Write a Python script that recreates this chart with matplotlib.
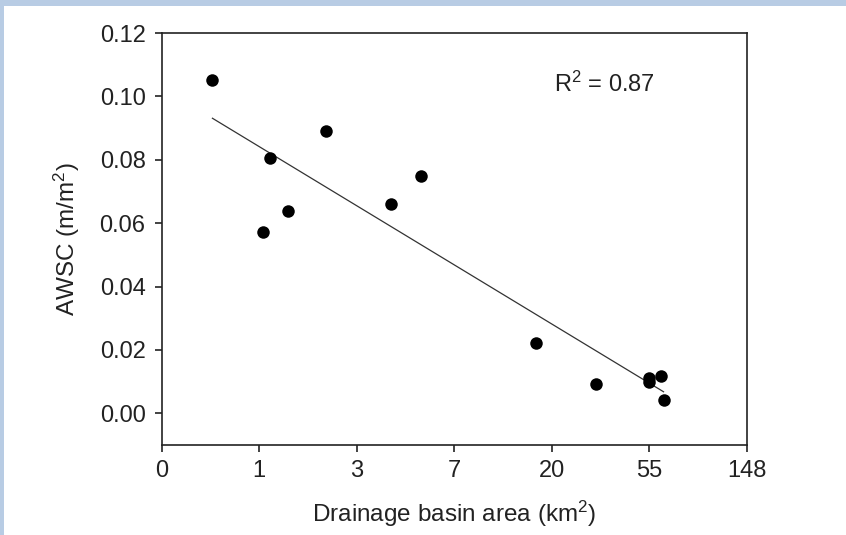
import numpy as np
import matplotlib
matplotlib.use("Agg")
import matplotlib.pyplot as plt
from matplotlib.patches import Rectangle

plt.rcParams['font.family'] = ['Liberation Sans', 'DejaVu Sans']
plt.rcParams['mathtext.fontset'] = 'custom'
plt.rcParams['mathtext.rm'] = 'Liberation Sans'
plt.rcParams['mathtext.it'] = 'Liberation Sans:italic'
plt.rcParams['mathtext.bf'] = 'Liberation Sans:bold'

# Data
basin_area_km2 = [0.62, 1.12, 1.04, 1.35, 1.99, 3.87, 5.25, 17.0, 31.5, 54.4, 54.4, 61.2, 63.1]
awsc = [0.1051, 0.0806, 0.0573, 0.0639, 0.0890, 0.0662, 0.0748, 0.0223, 0.0092, 0.0111, 0.0100, 0.0119, 0.0042]
fit_area_km2 = [0.62, 63.1]
fit_awsc = [0.0931, 0.0068]
x_tick_labels = ['0', '1', '3', '7', '20', '55', '148']
y_ticks = [0.00, 0.02, 0.04, 0.06, 0.08, 0.10, 0.12]
r2_text = r'R$^{\mathrm{2}}$ = 0.87'

fig = plt.figure(figsize=(8.46, 5.35), dpi=100)
fig.patch.set_facecolor('white')
# light blue frame bands
fig.patches.append(Rectangle((0, 1 - 6/535), 1, 6/535, transform=fig.transFigure,
                             facecolor='#b8cce4', edgecolor='none', zorder=0))
fig.patches.append(Rectangle((0, 0), 4/846, 1, transform=fig.transFigure,
                             facecolor='#b8cce4', edgecolor='none', zorder=0))

ax = fig.add_axes([161.5/846, 1 - 445/535, (747 - 161.5)/846, (445 - 33)/535])

x = np.log(basin_area_km2)
ax.plot(np.log(fit_area_km2), fit_awsc, color='#333333', lw=0.9, zorder=2)
ax.plot(x, awsc, 'o', color='black', ms=9, zorder=3, markeredgewidth=0)

ax.set_xlim(-1, 5)
ax.set_ylim(-0.01, 0.12)
ax.set_xticks(np.arange(-1, 6))
ax.set_xticklabels(x_tick_labels)
ax.set_yticks(y_ticks)
ax.set_yticklabels([f'{v:.2f}' for v in y_ticks])

for s in ax.spines.values():
    s.set_linewidth(1.2)
    s.set_color('#222222')
ax.tick_params(direction='out', length=5, width=1.2, labelsize=17, pad=6.5, colors='#222222')
ax.tick_params(axis='x', pad=6)

ax.set_xlabel('Drainage basin area (km$^{\\mathrm{2}}$)', fontsize=17.5, color='#222222', va='center')
ax.set_ylabel('AWSC (m/m$^{\\mathrm{2}}$)', fontsize=17.5, color='#222222', va='center')
ax.xaxis.set_label_coords(0.5, (445 - 514) / 412)
ax.yaxis.set_label_coords((67 - 161.5) / 585.5, 0.5)

ax.text(3.02, 0.1037, r2_text, fontsize=17, va='center', ha='left', color='#222222')

fig.savefig('out.png', dpi=100, facecolor='white')
